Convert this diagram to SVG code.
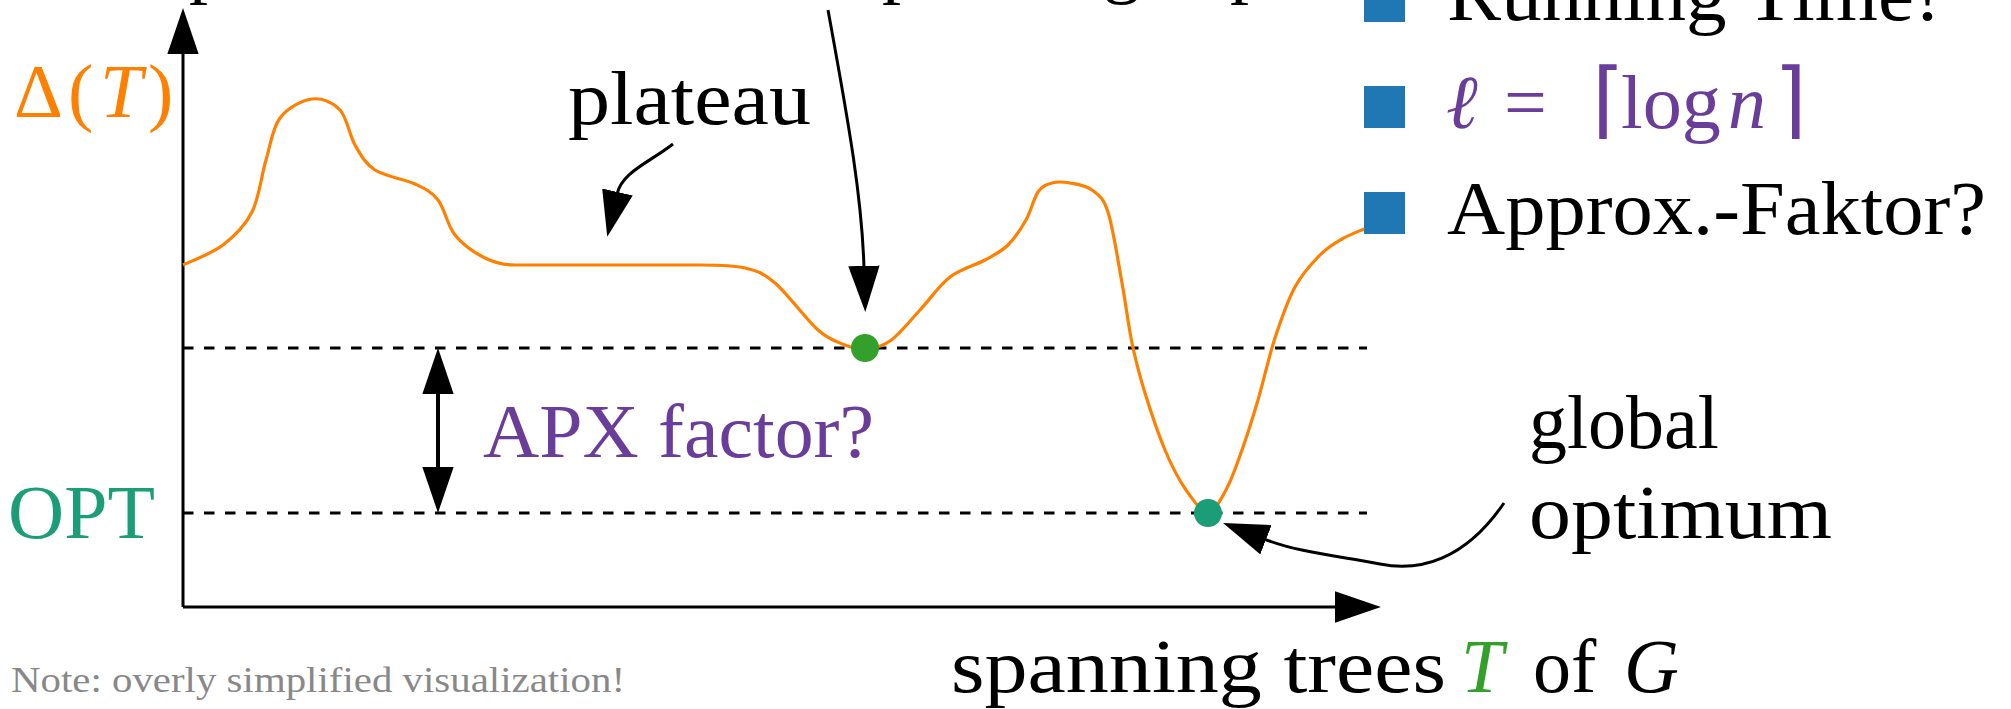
<svg xmlns="http://www.w3.org/2000/svg" width="2011" height="709" viewBox="0 0 2011 709">
<defs>
<style>
.t{font-family:"Liberation Serif","DejaVu Serif",serif;font-size:76px;fill:#000}
.i{font-style:italic}
.ax{stroke:#000;stroke-width:3;fill:none}
.dash{stroke:#000;stroke-width:3;stroke-dasharray:10.5 10.5;fill:none}
.curve{stroke:#ff7f00;stroke-width:3.2;fill:none;stroke-linejoin:round}
.sq{fill:#1f78b4}
.br{font-family:"DejaVu Sans",sans-serif;font-size:84px;font-weight:200}
</style>
<marker id="ah" markerUnits="userSpaceOnUse" markerWidth="46" markerHeight="32" viewBox="0 0 44 30" refX="2" refY="15" orient="auto-start-reverse">
<path d="M0,0 L44,15 L0,30 Z" fill="#000"/>
</marker>
</defs>
<rect width="2011" height="709" fill="#fff"/>

<g id="cut-caption">
<text class="t" y="-11.5"><tspan x="189">p</tspan><tspan x="882">p</tspan><tspan x="1103">g</tspan><tspan x="1230">p</tspan></text>
</g>

<g id="axes">
<path class="ax" d="M183,607 L183,52"  marker-end="url(#ah)"/>
<path class="ax" d="M183,607 L1337,607" marker-end="url(#ah)"/>
</g>

<g id="levels">
<path class="dash" d="M183,348 L1367,348"/>
<path class="dash" d="M183,513 L1367,513"/>
</g>

<g id="landscape">
<path class="curve" d="M183,265 C189.7,261.7 211.5,253.8 223,245 C234.5,236.2 244.8,226.2 252,212 C259.2,197.8 261.3,175.7 266,160 C270.7,144.3 272.3,128.2 280,118 C287.7,107.8 302,100.3 312,99 C322,97.7 332.8,102.3 340,110 C347.2,117.7 349.2,135 355,145 C360.8,155 365,163.5 375,170 C385,176.5 404.5,179 415,184 C425.5,189 431.3,191.5 438,200 C444.7,208.5 447.2,225.3 455,235 C462.8,244.7 475,253 485,258 C495,263 505,265 515,265 L700,265 C710,265 732.5,265 745,268 C757.5,271 762.8,272.7 775,283 C787.2,293.3 806.3,319.7 818,330 C829.7,340.3 837.2,341.8 845,345 C852.8,348.2 857.5,349.7 865,349 C872.5,348.3 880.8,347.5 890,341 C899.2,334.5 910,320.7 920,310 C930,299.3 939.2,285.3 950,277 C960.8,268.7 975.3,265.3 985,260 C994.7,254.7 1001.2,251.7 1008,245 C1014.8,238.3 1021,228.8 1026,220 C1031,211.2 1033.7,198.2 1038,192 C1042.3,185.8 1046.7,184.5 1052,183 C1057.3,181.5 1063.3,181.8 1070,183 C1076.7,184.2 1085.7,185.2 1092,190 C1098.3,194.8 1103,196.5 1108,212 C1113,227.5 1118,261.2 1122,283 C1126,304.8 1128.2,324.7 1132,343 C1135.8,361.3 1139.5,375.2 1145,393 C1150.5,410.8 1158.2,433.8 1165,450 C1171.8,466.2 1178.8,479.7 1186,490 C1193.2,500.3 1201.3,512 1208,512 C1214.7,512 1220.3,500.3 1226,490 C1231.7,479.7 1236.7,465 1242,450 C1247.3,435 1252.5,418.7 1258,400 C1263.5,381.3 1268.8,356.8 1275,338 C1281.2,319.2 1287.5,300.8 1295,287 C1302.5,273.2 1312.2,263 1320,255 C1327.8,247 1334.7,243.3 1342,239 C1349.3,234.7 1360.3,230.7 1364,229"/>
</g>

<g id="local-min">
<circle cx="865" cy="348" r="14" fill="#33a02c"/>
</g>
<g id="global-min">
<circle cx="1208" cy="513" r="14" fill="#1b9e77"/>
</g>

<g id="connectors">
<path class="ax" d="M828,10 C850,130 862,200 864,268" marker-end="url(#ah)"/>
<path class="ax" d="M673,144 C650,162 622,172 617,194" marker-end="url(#ah)"/>
<path class="ax" d="M1504,503 C1465,560 1420,572 1380,564 C1340,556 1300,553 1264,539" marker-end="url(#ah)"/>
<path class="ax" style="stroke-width:4" d="M438,392 L438,469" marker-start="url(#ah)" marker-end="url(#ah)"/>
</g>

<g id="label-delta">
<text class="t" y="117" style="fill:#ff7f00"><tspan x="14">Δ</tspan><tspan x="68">(</tspan><tspan x="100" class="i">T</tspan><tspan x="148">)</tspan></text>
</g>
<g id="label-opt">
<text class="t" x="8" y="538" style="fill:#1b9e77" textLength="147" lengthAdjust="spacingAndGlyphs">OPT</text>
</g>
<g id="label-plateau">
<text class="t" x="568" y="124" textLength="243" lengthAdjust="spacingAndGlyphs">plateau</text>
</g>
<g id="label-apx">
<text class="t" x="483" y="457" style="fill:#6a3d9a" textLength="391" lengthAdjust="spacingAndGlyphs">APX factor?</text>
</g>
<g id="label-global">
<text class="t" x="1529" y="448">global</text>
<text class="t" x="1529" y="538" textLength="303" lengthAdjust="spacingAndGlyphs">optimum</text>
</g>
<g id="label-xaxis">
<text class="t" y="692"><tspan x="951" textLength="495" lengthAdjust="spacingAndGlyphs">spanning trees</tspan><tspan x="1461" class="i" style="fill:#33a02c">T</tspan><tspan x="1533">of</tspan><tspan x="1624" class="i">G</tspan></text>
</g>
<g id="note">
<text x="11" y="692" style="font-family:'Liberation Serif','DejaVu Serif',serif;font-size:36px;fill:#888888" textLength="614" lengthAdjust="spacingAndGlyphs">Note: overly simplified visualization!</text>
</g>

<g id="legend">
<rect class="sq" x="1364" y="-20" width="41" height="42"/>
<text class="t" x="1447" y="20" textLength="494" lengthAdjust="spacingAndGlyphs">Running Time!</text>
<rect class="sq" x="1364" y="86" width="41" height="42"/>
<text class="t" y="128" style="fill:#6a3d9a"><tspan x="1446" class="i">ℓ</tspan><tspan x="1504">=</tspan><tspan x="1592" class="br">⌈</tspan><tspan x="1621" textLength="100" lengthAdjust="spacingAndGlyphs">log</tspan><tspan x="1728" class="i">n</tspan><tspan x="1774" class="br">⌉</tspan></text>
<rect class="sq" x="1364" y="192" width="41" height="42"/>
<text class="t" x="1447" y="234" textLength="539" lengthAdjust="spacingAndGlyphs">Approx.-Faktor?</text>
</g>
</svg>
